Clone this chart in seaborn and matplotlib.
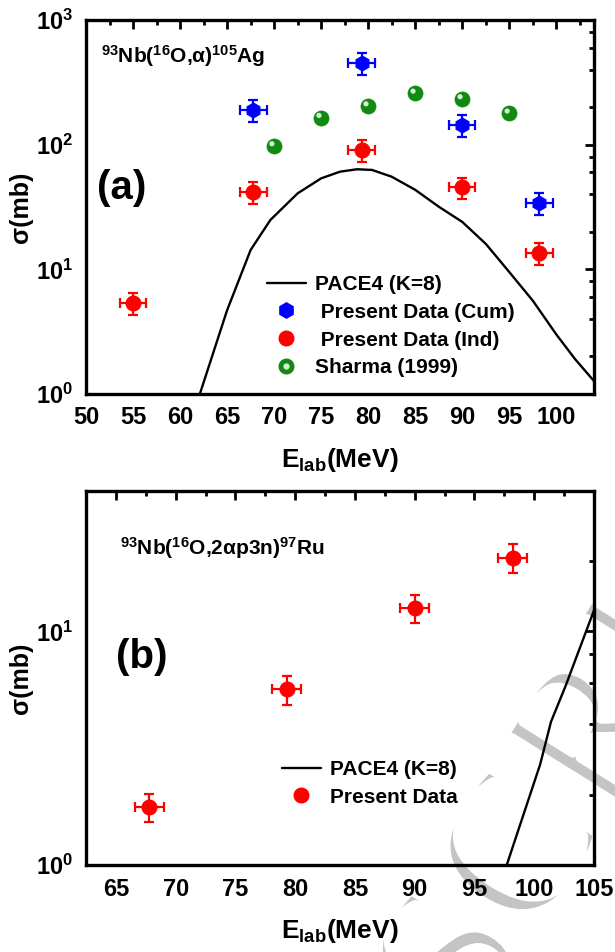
import matplotlib
matplotlib.use("Agg")
import matplotlib.pyplot as plt
import matplotlib.patheffects as pe
from matplotlib.lines import Line2D
from matplotlib.legend_handler import HandlerTuple
from matplotlib.ticker import MultipleLocator, LogLocator, NullFormatter
from matplotlib.transforms import offset_copy
import pandas as pd
import seaborn as sns

sns.set_theme(style="white")
plt.rcParams["font.family"] = ["Liberation Sans", "DejaVu Sans"]
plt.rcParams["font.weight"] = "bold"
plt.rcParams["mathtext.default"] = "regular"
plt.rcParams["axes.edgecolor"] = "black"
plt.rcParams["axes.linewidth"] = 2.4
for key in ("text.color", "axes.labelcolor", "xtick.color", "ytick.color"):
    plt.rcParams[key] = "black"

# ---- panel (a): 93Nb(16O,alpha)105Ag ----
e_cum = [67.8, 79.3, 90.0, 98.2]
sig_cum = [190, 450, 144, 33.9]
dsig_cum = [38, 90, 29, 6.8]
e_ind = [55.0, 67.8, 79.3, 90.0, 98.2]
sig_ind = [5.35, 42.0, 90.7, 45.5, 13.6]
dsig_ind = [1.05, 8.4, 18.0, 9.0, 2.7]
de_a = [1.4, 1.4, 1.4, 1.4, 1.4]
e_sharma = [70, 75, 80, 85, 90, 95]
sig_sharma = [97.6, 164.7, 204, 258, 232.5, 178.6]
e_pace_a = [62.1, 65.0, 67.5, 69.6, 72.5, 75.0, 77.0, 78.8, 80.4, 82.5, 85.0,
            87.5, 90.0, 92.5, 95.0, 97.5, 100.0, 102.0, 104.0]
sig_pace_a = [1.0, 4.7, 14.3, 24.9, 40.7, 53.7, 60.7, 63.5, 62.7, 55.3, 43.4,
              31.8, 24.0, 16.0, 9.5, 5.6, 3.0, 1.9, 1.27]

# ---- panel (b): 93Nb(16O,2alpha p3n)97Ru ----
e_ru = [67.8, 79.3, 90.0, 98.2]
sig_ru = [1.775, 5.65, 12.58, 20.65]
dsig_ru = [0.24, 0.8, 1.75, 2.9]
de_ru = [1.2, 1.2, 1.2, 1.2]
e_pace_b = [97.7, 100.5, 101.4, 102.6, 105.0]
sig_pace_b = [1.0, 2.7, 4.1, 5.8, 12.3]

C_BLUE = "#0000ff"
C_RED = "#ff0000"
C_GREEN = "#108a10"
C_HL = "#d8efd8"

W, H = 615, 952
fig = plt.figure(figsize=(W / 100, H / 100), dpi=100)
ax1 = fig.add_axes([86 / W, 1 - 394 / H, 508 / W, 374 / H])
ax2 = fig.add_axes([86 / W, 1 - 865 / H, 508 / W, 374.3 / H])

# faint diagonal stamp behind the plotting area (thin, light glyphs)
stamp = fig.text(-462 / W, 1 - 2539 / H, "ACCEPTED MANUSCRIPT", rotation=58,
                 rotation_mode="anchor", fontsize=150,
                 family=["Liberation Serif", "DejaVu Serif"],
                 fontweight="normal", color="#c4c4c4", ha="left",
                 va="baseline", zorder=-5)
stamp.set_path_effects([pe.Stroke(linewidth=7, foreground="white")])

for ax in (ax1, ax2):
    ax.patch.set_alpha(0)

df_pace_a = pd.DataFrame({"E": e_pace_a, "sigma": sig_pace_a})
sns.lineplot(data=df_pace_a, x="E", y="sigma", ax=ax1, color="black", lw=1.7,
             sort=False, estimator=None, zorder=2)

ekw = dict(ls="none", elinewidth=1.6, capsize=3.3, capthick=1.6, zorder=3)
ax1.errorbar(e_cum, sig_cum, yerr=dsig_cum, xerr=de_a[:4], fmt="h", ms=10.5,
             color=C_BLUE, mec=C_BLUE, **ekw)
ax1.errorbar(e_ind, sig_ind, yerr=dsig_ind, xerr=de_a, fmt="o", ms=10.5,
             color=C_RED, mec=C_RED, **ekw)

df_sh = pd.DataFrame({"E": e_sharma, "sigma": sig_sharma})
sns.scatterplot(data=df_sh, x="E", y="sigma", ax=ax1, s=118, color=C_GREEN,
                edgecolor=C_GREEN, linewidth=0.5, zorder=4)
hl_tr = offset_copy(ax1.transData, fig=fig, x=-1.6, y=1.6, units="points")
ax1.scatter(e_sharma, sig_sharma, s=14, color=C_HL, edgecolor="none",
            transform=hl_tr, zorder=5)

df_pace_b = pd.DataFrame({"E": e_pace_b, "sigma": sig_pace_b})
sns.lineplot(data=df_pace_b, x="E", y="sigma", ax=ax2, color="black", lw=1.7,
             sort=False, estimator=None, zorder=2)
ax2.errorbar(e_ru, sig_ru, yerr=dsig_ru, xerr=de_ru, fmt="o", ms=10.5,
             color=C_RED, mec=C_RED, **ekw)

ax1.set_xlim(50, 104)
ax1.set_ylim(1, 1000)
ax2.set_xlim(62.5, 105)
ax2.set_ylim(1, 40)

for ax in (ax1, ax2):
    ax.set_yscale("log")
    ax.xaxis.set_major_locator(MultipleLocator(5))
    ax.xaxis.set_minor_locator(MultipleLocator(2.5))
    ax.yaxis.set_major_locator(LogLocator(base=10, numticks=10))
    ax.yaxis.set_minor_locator(LogLocator(base=10, subs=(2, 4, 6, 8), numticks=10))
    ax.yaxis.set_minor_formatter(NullFormatter())
    ax.tick_params(which="major", direction="in", length=6.5, width=2.0,
                   top=True, right=True, labelsize=17, pad=9, colors="black")
    ax.tick_params(which="minor", direction="in", length=3.6, width=2.0,
                   top=True, right=True, colors="black")
    for lab in ax.get_xticklabels() + ax.get_yticklabels():
        lab.set_fontweight("bold")
    for s in ax.spines.values():
        s.set_linewidth(2.4)
        s.set_color("black")
    ax.set_xlabel("E$_{lab}$(MeV)", fontsize=19, fontweight="bold")
    ax.set_ylabel("σ(mb)", fontsize=18, fontweight="bold")
    ax.yaxis.set_label_coords(-0.128, 0.5)
    ax.yaxis.label.set(va="center", rotation_mode="default")
    ax.xaxis.set_label_coords(0.5, -0.176)
    ax.xaxis.label.set(va="center")

fig.text(101 / W, 1 - 63 / H, "$^{93}$Nb($^{16}$O,α)$^{105}$Ag", fontsize=15,
         fontweight="bold", ha="left", va="baseline")
fig.text(122 / W, 1 - 188 / H, "(a)", fontsize=29, fontweight="bold",
         ha="center", va="center")
fig.text(119.6 / W, 1 - 555 / H, "$^{93}$Nb($^{16}$O,2αp3n)$^{97}$Ru",
         fontsize=15, fontweight="bold", ha="left", va="baseline")
fig.text(141.7 / W, 1 - 656.7 / H, "(b)", fontsize=29, fontweight="bold",
         ha="center", va="center")

# legends
pace_h = Line2D([], [], color="black", lw=1.7)
cum_h = Line2D([], [], ls="none", marker="h", ms=11, color=C_BLUE)
ind_h = Line2D([], [], ls="none", marker="o", ms=10.5, color=C_RED)
sh_h = (Line2D([], [], ls="none", marker="o", ms=10.5, color=C_GREEN),
        Line2D([], [], ls="none", marker="o", ms=3.5, color=C_HL))
leg_kw = dict(frameon=False, borderpad=0, borderaxespad=0, handlelength=1.9,
              handletextpad=0.4, labelspacing=0.42,
              prop={"size": 15, "weight": "bold"}, loc="upper left",
              bbox_transform=fig.transFigure)
ax1.legend([pace_h, cum_h, ind_h, sh_h],
           ["PACE4 (K=8)", " Present Data (Cum)", " Present Data (Ind)",
            "Sharma (1999)"],
           handler_map={tuple: HandlerTuple(ndivide=1)},
           bbox_to_anchor=(266.7 / W, 1 - 275 / H), **leg_kw)
ax2.legend([pace_h, Line2D([], [], ls="none", marker="o", ms=10.5, color=C_RED)],
           ["PACE4 (K=8)", "Present Data"],
           bbox_to_anchor=(281.6 / W, 1 - 760 / H), **leg_kw)

fig.savefig("out.png", dpi=100)
